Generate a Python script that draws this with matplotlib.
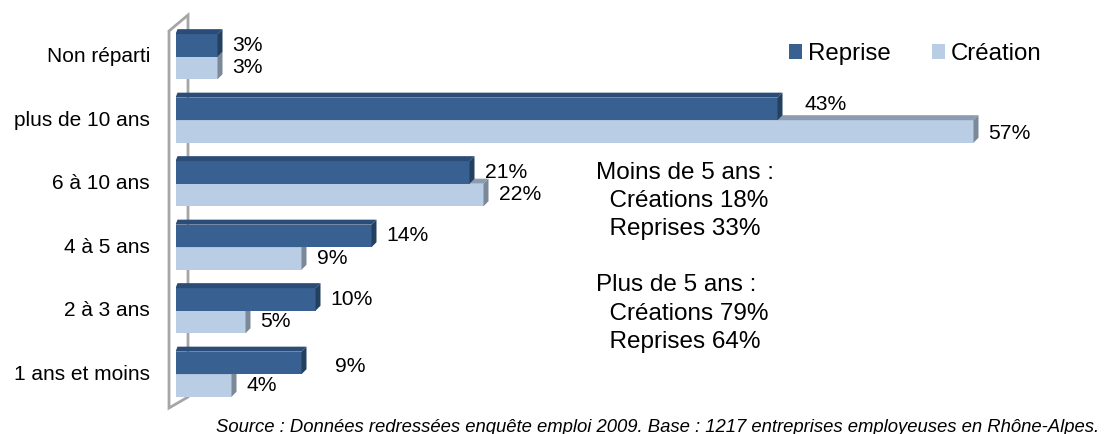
import matplotlib
matplotlib.use("Agg")
import matplotlib.pyplot as plt
from matplotlib.patches import Polygon, Patch

plt.rcParams["font.family"] = ["Liberation Sans", "DejaVu Sans"]

# Ancienneté de l'entreprise, du haut vers le bas
categories = ["Non réparti", "plus de 10 ans", "6 à 10 ans", "4 à 5 ans",
              "2 à 3 ans", "1 ans et moins"]
reprise = [3, 43, 21, 14, 10, 9]
creation = [3, 57, 22, 9, 5, 4]
series_names = ["Reprise", "Création"]
source_text = ("Source : Données redressées enquête emploi 2009. "
               "Base : 1217 entreprises employeuses en Rhône-Alpes.")

# Couleurs : face avant, face du dessus, face de droite
REP = ("#386192", "#2B4C76", "#24405F")
CRE = ("#B9CDE5", "#8D9BB0", "#7B8898")
WALL = "#A6A6A6"

W, H = 1105, 434
fig = plt.figure(figsize=(W / 100, H / 100), dpi=100)
x0_px = 175.5
ax = fig.add_axes([x0_px / W, 0, 1 - x0_px / W, 1])
px_per_pct = 14.0
ax.set_xlim(0, (W - x0_px) / px_per_pct)
y0_px, step_px = 56.7, 63.5
ax.set_ylim((H - y0_px) / step_px, -y0_px / step_px)
ax.axis("off")

# Profondeur 3D en pixels convertie en unités de données
DEPTH_PX = 5.0
ddx = DEPTH_PX / px_per_pct
ddy = DEPTH_PX / step_px

bar_h = 0.355
pos = list(range(len(categories)))

# Paroi latérale grise (effet 3D)
wx0, wx1 = -6.5 / px_per_pct, 12.5 / px_per_pct
wall_pts = [(wx0, -25.7 / step_px), (wx1, -41.7 / step_px),
            (wx1, 340.3 / step_px), (wx0, 351.3 / step_px)]
ax.add_patch(Polygon(wall_pts, closed=True, fill=False, edgecolor=WALL,
                     lw=2.0, clip_on=False, joinstyle="miter", zorder=1))


def bar3d(y, v, cols, z):
    top, bot = y - bar_h / 2, y + bar_h / 2
    ax.barh(y, v, height=bar_h, left=0, color=cols[0], zorder=z)
    ax.add_patch(Polygon([(0, top), (v, top), (v + ddx, top - ddy),
                          (ddx * 0.4, top - ddy)], closed=True,
                         facecolor=cols[1], edgecolor="none", zorder=z))
    ax.add_patch(Polygon([(v, top), (v + ddx, top - ddy),
                          (v + ddx, bot - ddy), (v, bot)], closed=True,
                         facecolor=cols[2], edgecolor="none", zorder=z))


label_nudge = {("rep", 1): (12, 4), ("rep", 5): (19, -4), ("cre", 1): (0, -2)}

for i in pos:
    yr = i - bar_h / 2
    yc = i + bar_h / 2
    bar3d(yc, creation[i], CRE, 2)
    bar3d(yr, reprise[i], REP, 3)
    for key, y, v in (("rep", yr, reprise[i]), ("cre", yc, creation[i])):
        nx, ny = label_nudge.get((key, i), (0, 0))
        ax.annotate(f"{v}%", xy=(v, y), xytext=(15 + nx, ny),
                    textcoords="offset pixels", va="center", ha="left",
                    fontsize=15.2, color="#000000", zorder=5)
    ax.text(-25.5 / px_per_pct, i, categories[i], ha="right", va="center",
            fontsize=15, color="#000000")

# Légende
handles = [Patch(facecolor=REP[0], edgecolor="none"),
           Patch(facecolor=CRE[0], edgecolor="none")]
fig.legend(handles, series_names, loc="upper left",
           bbox_to_anchor=(789 / W, 1 - 43 / H), bbox_transform=fig.transFigure,
           ncol=2, frameon=False, fontsize=17.3, handlelength=0.55,
           handleheight=0.55, handletextpad=0.25, columnspacing=1.7,
           borderpad=0, borderaxespad=0)

# Synthèse moins / plus de 5 ans
young = [3, 4, 5]
old = [1, 2]
summary = (f"Moins de 5 ans :\n  Créations {sum(creation[k] for k in young)}%\n"
           f"  Reprises {sum(reprise[k] for k in young)}%\n\n"
           f"Plus de 5 ans :\n  Créations {sum(creation[k] for k in old)}%\n"
           f"  Reprises {sum(reprise[k] for k in old)}%")
fig.text(596 / W, 1 - 162 / H, summary, ha="left", va="top",
         fontsize=17.5, linespacing=1.36, color="#000000")

fig.text(1099 / W, 1 - 432 / H, source_text, ha="right", va="baseline",
         fontsize=13.3, style="italic", color="#000000")

fig.savefig("out.png", dpi=100, facecolor="white")
